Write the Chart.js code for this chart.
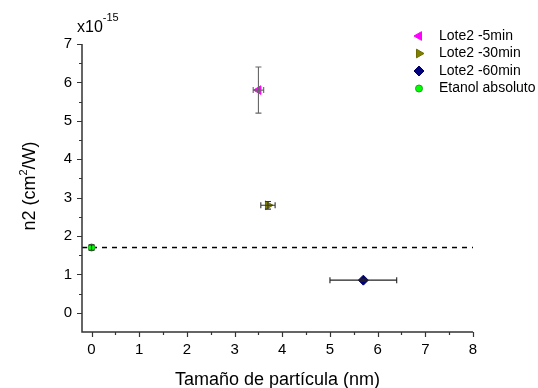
<!DOCTYPE html>
<html>
<head>
<meta charset="utf-8">
<script src="https://cdn.jsdelivr.net/npm/chart.js@4.4.1/dist/chart.umd.min.js"></script>
<style>
  html, body { margin: 0; padding: 0; background: #ffffff; }
  #wrap { width: 538px; height: 388px; position: relative; }
</style>
</head>
<body>
<div id="wrap"><canvas id="c" width="538" height="388"></canvas></div>
<script>
// ---- data ----
const seriesNames = ['Lote2 -5min', 'Lote2 -30min', 'Lote2 -60min', 'Etanol absoluto'];
const sizeX  = [3.5, 3.7, 5.7, 0.0];      // particle size (nm)
const n2Y    = [5.8, 2.8, 0.85, 1.7];     // n2 (x1e-15 cm^2/W)
const xErr   = [0.11, 0.15, 0.7, 0.0];
const yErr   = [0.6, 0.1, 0.03, 0.07];
const refLineX = [-0.2, 8];
const refLineY = [1.7, 1.7];
const xTicks = [0, 1, 2, 3, 4, 5, 6, 7, 8];
const yTicks = [0, 1, 2, 3, 4, 5, 6, 7];

// ---- styles ----
const colors  = ['#ff00ff', '#808000', '#000080', '#00ff00'];
const borders = ['#ff00ff', '#6b6b00', '#000060', '#20a020'];
const styles  = ['triangle', 'triangle', 'rectRot', 'circle'];
const rotations = [-90, 90, 0, 0];
const radii = [5, 5, 5, 3.5];
const errColors = ['#666666', '#333333', '#222222', '#333333'];
const FONT = 'Arial, "Liberation Sans", sans-serif';

const datasets = seriesNames.map((name, i) => ({
  label: name,
  data: [{ x: sizeX[i], y: n2Y[i] }],
  backgroundColor: colors[i],
  borderColor: borders[i],
  borderWidth: 1,
  pointStyle: styles[i],
  rotation: rotations[i],
  pointRadius: radii[i],
  pointHoverRadius: radii[i],
  showLine: false
}));
datasets.push({
  label: 'ref',
  data: refLineX.map((x, i) => ({ x: x, y: refLineY[i] })),
  showLine: true,
  borderColor: '#000000',
  borderWidth: 1.5,
  borderDash: [5, 5],
  pointRadius: 0,
  fill: false,
  order: 10
});

const errorBars = {
  id: 'errorBars',
  afterDatasetsDraw(chart) {
    const ctx = chart.ctx, xs = chart.scales.x, ys = chart.scales.y;
    ctx.save();
    ctx.lineWidth = 1.1;
    for (let i = 0; i < seriesNames.length; i++) {
      ctx.strokeStyle = errColors[i];
      const px = xs.getPixelForValue(sizeX[i]);
      const py = ys.getPixelForValue(n2Y[i]);
      if (yErr[i] > 0) {
        const t = ys.getPixelForValue(n2Y[i] + yErr[i]);
        const b = ys.getPixelForValue(n2Y[i] - yErr[i]);
        ctx.beginPath();
        ctx.moveTo(px, t); ctx.lineTo(px, b);
        ctx.moveTo(px - 3, t); ctx.lineTo(px + 3, t);
        ctx.moveTo(px - 3, b); ctx.lineTo(px + 3, b);
        ctx.stroke();
      }
      if (xErr[i] > 0) {
        const l = xs.getPixelForValue(sizeX[i] - xErr[i]);
        const r = xs.getPixelForValue(sizeX[i] + xErr[i]);
        ctx.beginPath();
        ctx.moveTo(l, py); ctx.lineTo(r, py);
        ctx.moveTo(l, py - 3); ctx.lineTo(l, py + 3);
        ctx.moveTo(r, py - 3); ctx.lineTo(r, py + 3);
        ctx.stroke();
      }
    }
    ctx.restore();
  }
};

const axesAndText = {
  id: 'axesAndText',
  afterDraw(chart) {
    const ctx = chart.ctx, xs = chart.scales.x, ys = chart.scales.y;
    const a = chart.chartArea;
    ctx.save();
    ctx.strokeStyle = '#333333';
    ctx.lineWidth = 1.5;
    // axis lines
    ctx.beginPath();
    ctx.moveTo(a.left, a.top); ctx.lineTo(a.left, a.bottom);
    ctx.moveTo(a.left - 0.75, a.bottom); ctx.lineTo(a.right, a.bottom);
    ctx.stroke();
    // ticks
    ctx.lineWidth = 1.2;
    ctx.beginPath();
    for (let v = 0; v <= 8.001; v += 0.5) {
      const px = Math.round(xs.getPixelForValue(v)) + 0.5;
      const len = (Math.abs(v - Math.round(v)) < 1e-6) ? 5 : 3;
      ctx.moveTo(px, a.bottom); ctx.lineTo(px, a.bottom + len);
    }
    for (let v = 0; v <= 7.001; v += 0.5) {
      const py = Math.round(ys.getPixelForValue(v)) + 0.5;
      const len = (Math.abs(v - Math.round(v)) < 1e-6) ? 5 : 3;
      ctx.moveTo(a.left, py); ctx.lineTo(a.left - len, py);
    }
    ctx.stroke();

    // axis titles
    ctx.fillStyle = '#000000';
    ctx.font = '18px ' + FONT;
    ctx.textAlign = 'center';
    ctx.textBaseline = 'alphabetic';
    ctx.fillText('Tamaño de partícula (nm)', (a.left + a.right) / 2, 385);

    // y title with superscript
    ctx.save();
    ctx.translate(35, 186);
    ctx.rotate(-Math.PI / 2);
    const p1 = 'n2 (cm', p2 = '2', p3 = '/W)';
    ctx.font = '18px ' + FONT;
    const w1 = ctx.measureText(p1).width, w3 = ctx.measureText(p3).width;
    ctx.font = '11px ' + FONT;
    const w2 = ctx.measureText(p2).width;
    let x0 = -(w1 + w2 + w3) / 2;
    ctx.textAlign = 'left';
    ctx.font = '18px ' + FONT;
    ctx.fillText(p1, x0, 0);
    ctx.font = '11px ' + FONT;
    ctx.fillText(p2, x0 + w1, -8);
    ctx.font = '18px ' + FONT;
    ctx.fillText(p3, x0 + w1 + w2, 0);
    ctx.restore();

    // multiplier label
    ctx.textAlign = 'left';
    ctx.font = '16px ' + FONT;
    ctx.fillText('x10', 77, 32);
    const wx = ctx.measureText('x10').width;
    ctx.font = '11px ' + FONT;
    ctx.fillText('-15', 77 + wx, 21);

    // legend
    const legY = [36, 53.5, 71, 88.5];
    ctx.font = '14px ' + FONT;
    ctx.textBaseline = 'middle';
    for (let i = 0; i < seriesNames.length; i++) {
      ctx.save();
      ctx.fillStyle = colors[i];
      ctx.strokeStyle = borders[i];
      ctx.lineWidth = 1;
      Chart.helpers.drawPoint(ctx, {
        pointStyle: styles[i], rotation: rotations[i], radius: radii[i], borderWidth: 1
      }, 419, legY[i]);
      ctx.restore();
      ctx.fillStyle = '#000000';
      ctx.fillText(seriesNames[i], 439, legY[i]);
    }
    ctx.restore();
  }
};

new Chart(document.getElementById('c'), {
  type: 'scatter',
  data: { datasets: datasets },
  options: {
    responsive: false,
    animation: false,
    events: [],
    layout: { padding: { top: 44, right: 65, left: 0, bottom: 0 } },
    plugins: { legend: { display: false }, tooltip: { enabled: false } },
    scales: {
      x: {
        type: 'linear', min: -0.2, max: 8,
        grid: { display: false, drawTicks: false },
        border: { display: false },
        afterBuildTicks(s) { s.ticks = xTicks.map(v => ({ value: v })); },
        afterFit(s) { s.height = 56; },
        ticks: { font: { size: 15, family: FONT }, color: '#000000', padding: 9, maxRotation: 0, autoSkip: false }
      },
      y: {
        type: 'linear', min: -0.5, max: 7,
        grid: { display: false, drawTicks: false },
        border: { display: false },
        afterBuildTicks(s) { s.ticks = yTicks.map(v => ({ value: v })); },
        afterFit(s) { s.width = 82; },
        ticks: { font: { size: 15, family: FONT }, color: '#000000', padding: 10, autoSkip: false }
      }
    }
  },
  plugins: [errorBars, axesAndText]
});
</script>
</body>
</html>
